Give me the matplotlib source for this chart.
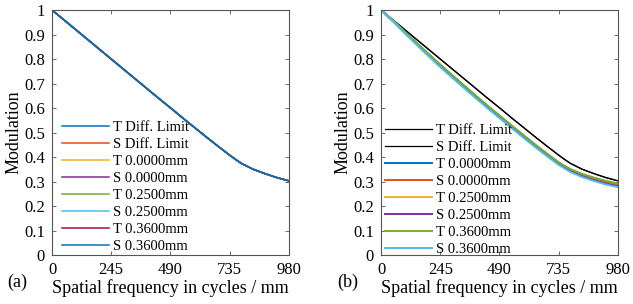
import numpy as np
import matplotlib
matplotlib.use('Agg')
import matplotlib.pyplot as plt

plt.rcParams['font.family'] = ['Liberation Serif', 'DejaVu Serif']
plt.rcParams['font.size'] = 12

# spatial frequency (cycles/mm)
freq = [0, 49, 98, 147, 196, 245, 294, 343, 392, 441, 490, 539, 588, 637,
        686, 735, 760, 784, 833, 882, 931, 980]

# panel (a): all curves coincide with the diffraction limit
mtf_a = [1.000, 0.960, 0.920, 0.880, 0.840, 0.800, 0.760, 0.720, 0.680, 0.640,
         0.601, 0.561, 0.522, 0.483, 0.445, 0.408, 0.390, 0.374, 0.350, 0.332,
         0.316, 0.303]

# panel (b)
diff_T = mtf_a
diff_S = mtf_a
T_000 = [1.000, 0.956, 0.909, 0.863, 0.818, 0.774, 0.731, 0.689, 0.647, 0.606,
         0.566, 0.526, 0.487, 0.448, 0.411, 0.375, 0.360, 0.346, 0.325, 0.310,
         0.296, 0.285]
S_000 = [1.000, 0.957, 0.910, 0.865, 0.820, 0.776, 0.733, 0.691, 0.649, 0.608,
         0.568, 0.528, 0.489, 0.450, 0.413, 0.377, 0.362, 0.348, 0.328, 0.313,
         0.299, 0.288]
T_025 = [1.000, 0.956, 0.908, 0.862, 0.816, 0.772, 0.729, 0.687, 0.645, 0.604,
         0.564, 0.524, 0.485, 0.446, 0.409, 0.373, 0.358, 0.344, 0.323, 0.307,
         0.293, 0.282]
S_025 = [1.000, 0.955, 0.907, 0.861, 0.815, 0.771, 0.728, 0.686, 0.644, 0.603,
         0.563, 0.523, 0.484, 0.445, 0.408, 0.372, 0.357, 0.343, 0.322, 0.306,
         0.292, 0.281]
T_036 = [1.000, 0.958, 0.912, 0.867, 0.822, 0.778, 0.735, 0.693, 0.651, 0.610,
         0.570, 0.530, 0.491, 0.452, 0.415, 0.379, 0.364, 0.351, 0.331, 0.316,
         0.303, 0.292]
S_036 = [1.000, 0.954, 0.905, 0.858, 0.812, 0.767, 0.724, 0.682, 0.640, 0.599,
         0.559, 0.519, 0.480, 0.441, 0.404, 0.368, 0.353, 0.339, 0.318, 0.302,
         0.288, 0.277]

labels = ['T Diff. Limit', 'S Diff. Limit', 'T 0.0000mm', 'S 0.0000mm',
          'T 0.2500mm', 'S 0.2500mm', 'T 0.3600mm', 'S 0.3600mm']
xticks = [0, 245, 490, 735, 980]
yticks = [0, 0.1, 0.2, 0.3, 0.4, 0.5, 0.6, 0.7, 0.8, 0.9, 1]
yticklabels = ['0', '0.1', '0.2', '0.3', '0.4', '0.5', '0.6', '0.7', '0.8',
               '0.9', '1']

mcol = ['#0072BD', '#D95319', '#EDB120', '#7E2F8E', '#77AC30', '#4DBEEE', '#A2142F']

fig = plt.figure(figsize=(6.33, 3.04), dpi=100)
ax1 = fig.add_axes([0.0822, 0.161, 0.374, 0.806])
ax2 = fig.add_axes([0.602, 0.161, 0.374, 0.806])

# (a)
cols_a = mcol + [mcol[0]]
for i in range(8):
    ax1.plot(freq, mtf_a, color=cols_a[i], lw=1.1, label=labels[i])

# (b)
ax2.plot(freq, diff_T, color='black', lw=0.9, label=labels[0])
ax2.plot(freq, diff_S, color='black', lw=0.9, label=labels[1])
series_b = [T_000, S_000, T_025, S_025, T_036, S_036]
for i, y in enumerate(series_b):
    ax2.plot(freq, y, color=mcol[i], lw=1.4, label=labels[i + 2])

for ax, lx, ly in [(ax1, 0.0, -0.035), (ax2, -0.025, -0.045)]:
    ax.set_xlim(0, 980)
    ax.set_ylim(0, 1)
    ax.set_xticks(xticks)
    ax.set_yticks(yticks)
    ax.set_yticklabels(yticklabels)
    ax.tick_params(direction='in', top=True, right=True, length=3, width=0.6,
                   color='#555555', labelsize=12, pad=5)
    for s in ax.spines.values():
        s.set_color('#555555')
        s.set_linewidth(0.8)
    ax.set_xlabel('Spatial frequency in cycles / mm', fontsize=13, labelpad=1)
    ax.set_ylabel('Modulation', fontsize=13, labelpad=1)
    ax.legend(loc='lower left', bbox_to_anchor=(lx, ly), frameon=False,
              handlelength=3.2, handletextpad=0.3, labelspacing=0.26,
              borderaxespad=0.3, fontsize=10.5)

fig.text(0.012, 0.055, '(a)', fontsize=13)
fig.text(0.532, 0.055, '(b)', fontsize=13)

fig.savefig('out.png', dpi=100)
